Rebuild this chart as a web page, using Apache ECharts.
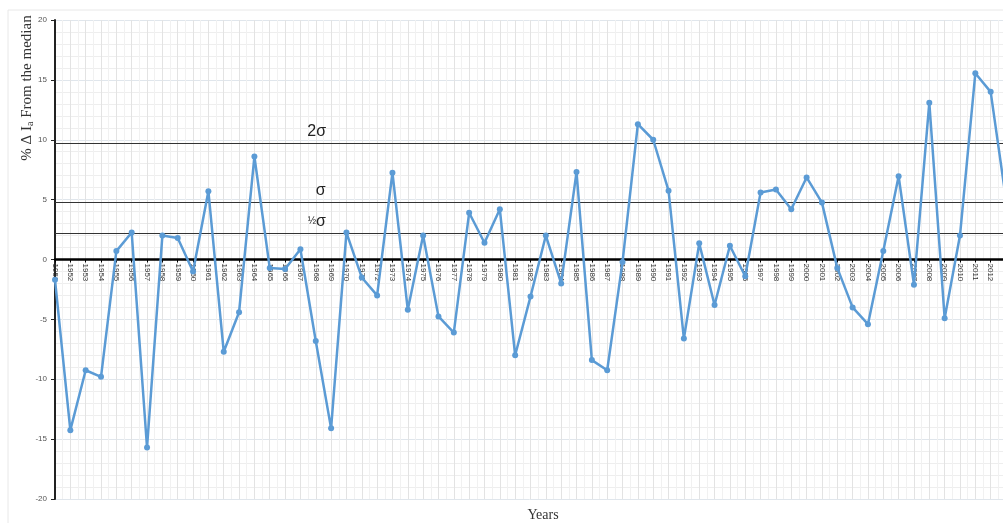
<!DOCTYPE html>
<html>
<head>
<meta charset="utf-8">
<script src="https://cdn.jsdelivr.net/npm/echarts@6/dist/echarts.min.js"></script>
<style>html,body{margin:0;padding:0;background:#fff}#c{width:1003px;height:523px}</style>
</head>
<body>
<div id="c"></div>
<script>
var years = [];
for (var y = 1951; y <= 2013; y++) years.push(String(y));
var values = [-1.7, -14.25, -9.25, -9.8, 0.7, 2.25, -15.7, 2.0, 1.8, -1.0,
  5.7, -7.7, -4.4, 8.6, -0.7, -0.8, 0.85, -6.8, -14.1, 2.25,
  -1.5, -3.0, 7.25, -4.2, 2.0, -4.75, -6.1, 3.9, 1.4, 4.2,
  -8.0, -3.1, 2.0, -2.0, 7.3, -8.4, -9.25, -0.2, 11.3, 10.0,
  5.75, -6.6, 1.35, -3.8, 1.15, -1.4, 5.6, 5.85, 4.2, 6.85,
  4.75, -0.7, -4.0, -5.4, 0.7, 6.95, -2.1, 13.1, -4.9, 2.0,
  15.55, 14.0, 5.0];
var sigmaLevels = [9.67, 4.75, 2.17];
var sigmaLabels = ['2σ', 'σ', '{f|½}σ'];
var labelYear = '1968';
var yTicks = [-20, -15, -10, -5, 0, 5, 10, 15, 20];

var gridTop = 20, gridBottom = 24, chartH = 523;
var plotH = chartH - gridTop - gridBottom;
var yMin = yTicks[0], yMax = yTicks[yTicks.length - 1];
var zeroOffset = -plotH * (0 - yMin) / (yMax - yMin);

var chart = echarts.init(document.getElementById('c'));
chart.setOption({
  backgroundColor: '#fff',
  animation: false,
  grid: {left: 55, width: 951, top: gridTop, bottom: gridBottom, containLabel: false, outerBoundsMode: 'none'},
  xAxis: [{
    type: 'category',
    data: years,
    boundaryGap: false,
    position: 'bottom',
    offset: zeroOffset,
    axisLine: {onZero: false, lineStyle: {color: '#000', width: 2.5}},
    axisTick: {show: true, alignWithLabel: true, length: 3, lineStyle: {color: '#000'}},
    axisLabel: {interval: 0, rotate: -90, fontSize: 8, color: '#333', margin: 4, fontFamily: 'Liberation Sans'},
    splitLine: {show: false},
    z: 5
  }, {
    type: 'value',
    min: 0, max: years.length - 1, interval: 1,
    position: 'top',
    axisLine: {show: false, onZero: false}, axisTick: {show: false}, axisLabel: {show: false},
    splitLine: {show: true, lineStyle: {color: '#e3e3e3', width: 1}},
    minorTick: {show: false, splitNumber: 2},
    minorSplitLine: {show: true, lineStyle: {color: '#f1f1f1', width: 1}}
  }],
  yAxis: {
    type: 'value',
    min: yMin, max: yMax, interval: 5,
    axisLine: {show: true, onZero: false, lineStyle: {color: '#222', width: 2}},
    axisTick: {show: true, length: 4, lineStyle: {color: '#222'}},
    axisLabel: {fontSize: 8, color: '#555', margin: 8, fontFamily: 'Liberation Sans'},
    splitLine: {show: true, lineStyle: {color: '#e0e6ec', width: 1}},
    minorTick: {show: false, splitNumber: 5},
    minorSplitLine: {show: true, lineStyle: {color: '#eeeeee', width: 1}}
  },
  series: [{
    type: 'line',
    data: values,
    xAxisIndex: 0,
    symbol: 'circle',
    symbolSize: 6,
    lineStyle: {color: '#5b9bd5', width: 2.5},
    itemStyle: {color: '#5b9bd5'},
    z: 6,
    markLine: {
      silent: true,
      symbol: 'none',
      label: {show: false},
      lineStyle: {color: '#333', width: 1.2, type: 'solid'},
      data: sigmaLevels.map(function (v) { return {yAxis: v}; })
    },
    markPoint: {
      symbol: 'circle', symbolSize: 0,
      silent: true,
      data: sigmaLevels.map(function (v, i) {
        return {
          coord: [labelYear, v],
          label: {
            show: true,
            formatter: sigmaLabels[i],
            position: 'top',
            distance: 4,
            offset: [i === 1 ? 5 : 1, 0],
            fontSize: 16, color: '#222', fontFamily: 'Liberation Sans',
            rich: {f: {fontSize: 10, color: '#222', fontFamily: 'Liberation Sans'}}
          }
        };
      })
    }
  }],
  graphic: [{
    type: 'rect', silent: true, z: -1,
    shape: {x: 8, y: 10, width: 1000, height: 520},
    style: {fill: 'none', stroke: '#e8e8e8', lineWidth: 1}
  }, {
    type: 'text', silent: true,
    x: 27, y: 88, rotation: Math.PI / 2,
    style: {
      text: '% Δ I{s|a} From the median',
      font: '15px "Liberation Serif"',
      fill: '#333',
      align: 'center', verticalAlign: 'middle',
      rich: {s: {font: '10px "Liberation Serif"', fill: '#333', padding: [6, 0, 0, 0]}}
    }
  }, {
    type: 'text', silent: true,
    x: 543, y: 515,
    style: {
      text: 'Years',
      font: '14px "Liberation Serif"',
      fill: '#333',
      align: 'center', verticalAlign: 'middle'
    }
  }]
});
</script>
</body>
</html>
